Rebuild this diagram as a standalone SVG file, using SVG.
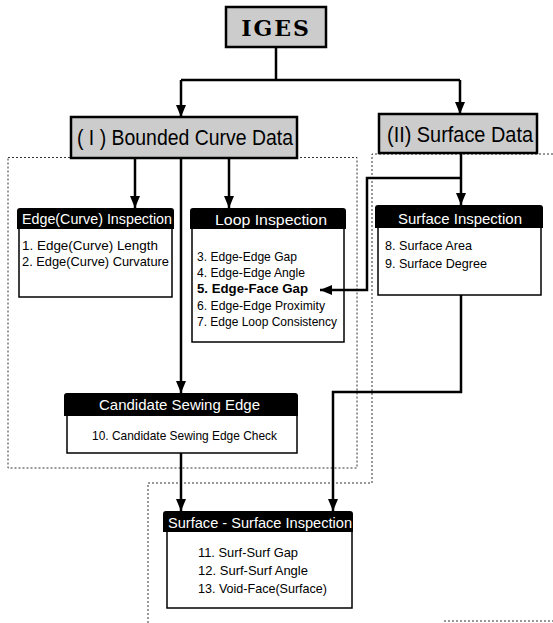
<svg xmlns="http://www.w3.org/2000/svg" width="553" height="623" viewBox="0 0 553 623">
<style>
.region{fill:none;stroke:#333;stroke-width:1;stroke-dasharray:2,2}
.top{fill:#cccccc;stroke:#000;stroke-width:2.5}
.hdr{fill:#000}
.body{fill:#fff;stroke:#000;stroke-width:1.5}
.conn{fill:none;stroke:#000;stroke-width:2.5}
.ttl{font-family:"Liberation Sans",Arial,sans-serif;font-size:22px;fill:#000}
.iges{font-family:"DejaVu Serif",serif;font-weight:bold;font-size:22px;fill:#000}
.ht{font-family:"Liberation Sans",Arial,sans-serif;font-size:15px;fill:#fff}
.bt{font-family:"Liberation Sans",Arial,sans-serif;font-size:13px;fill:#000}
</style>
<defs>
<marker id="ah" markerUnits="userSpaceOnUse" markerWidth="12" markerHeight="12" viewBox="0 0 12 12" refX="12" refY="6" orient="auto"><path d="M0,1 L12,6 L0,11 z" fill="#000"/></marker>
</defs>
<g id="regions">
<rect class="region" x="8" y="157.5" width="349" height="310.5"/>
<polyline class="region" points="553,154 372,154 372,483 148,483 148,623"/>
<line class="region" x1="444" y1="621" x2="553" y2="621"/>
</g>
<g id="iges">
<rect class="top" x="226" y="7" width="100" height="40"/>
<text class="iges" x="276" y="36" text-anchor="middle" letter-spacing="2">IGES</text>
</g>
<g id="bounded-curve-data">
<rect class="top" x="71" y="117" width="226" height="41"/>
<text class="ttl" x="77" y="145" textLength="216" lengthAdjust="spacingAndGlyphs">( I ) Bounded Curve Data</text>
</g>
<g id="surface-data">
<rect class="top" x="379" y="114" width="158" height="39"/>
<text class="ttl" x="387" y="142" textLength="146" lengthAdjust="spacingAndGlyphs">(II) Surface Data</text>
</g>
<g id="edge-inspection">
<rect class="body" x="19" y="228" width="153" height="69"/>
<path class="hdr" d="M17,229 V211 Q17,208 20,208 H171 Q174,208 174,211 V229 Z"/>
<text class="ht" x="22" y="224" textLength="150" lengthAdjust="spacingAndGlyphs">Edge(Curve) Inspection</text>
<text class="bt" x="22" y="250" textLength="136" lengthAdjust="spacingAndGlyphs">1. Edge(Curve) Length</text>
<text class="bt" x="22" y="266" textLength="147" lengthAdjust="spacingAndGlyphs">2. Edge(Curve) Curvature</text>
</g>
<g id="loop-inspection">
<rect class="body" x="192" y="228" width="152" height="114"/>
<path class="hdr" d="M190,229 V211 Q190,208 193,208 H343 Q346,208 346,211 V229 Z"/>
<text class="ht" x="215" y="225" textLength="112" lengthAdjust="spacingAndGlyphs">Loop  Inspection</text>
<text class="bt" x="197" y="261" textLength="100" lengthAdjust="spacingAndGlyphs">3. Edge-Edge Gap</text>
<text class="bt" x="197" y="277" textLength="108" lengthAdjust="spacingAndGlyphs">4. Edge-Edge Angle</text>
<text class="bt" x="197" y="293" font-weight="bold" textLength="111" lengthAdjust="spacingAndGlyphs">5. Edge-Face Gap</text>
<text class="bt" x="197" y="310" textLength="128" lengthAdjust="spacingAndGlyphs">6. Edge-Edge Proximity</text>
<text class="bt" x="197" y="326" textLength="140" lengthAdjust="spacingAndGlyphs">7. Edge Loop Consistency</text>
</g>
<g id="surface-inspection">
<rect class="body" x="378" y="227" width="163" height="68"/>
<path class="hdr" d="M375,228 V208 Q375,205 378,205 H540 Q543,205 543,208 V228 Z"/>
<text class="ht" x="398" y="224" textLength="124" lengthAdjust="spacingAndGlyphs">Surface  Inspection</text>
<text class="bt" x="385" y="250" textLength="87" lengthAdjust="spacingAndGlyphs">8.  Surface Area</text>
<text class="bt" x="385" y="268" textLength="102" lengthAdjust="spacingAndGlyphs">9.  Surface Degree</text>
</g>
<g id="candidate-sewing-edge">
<rect class="body" x="67" y="415" width="230" height="38"/>
<path class="hdr" d="M64,416 V396 Q64,393 67,393 H295 Q298,393 298,396 V416 Z"/>
<text class="ht" x="99" y="410" textLength="161" lengthAdjust="spacingAndGlyphs">Candidate Sewing Edge</text>
<text class="bt" x="92" y="440" textLength="185" lengthAdjust="spacingAndGlyphs">10. Candidate Sewing Edge Check</text>
</g>
<g id="surface-surface-inspection">
<rect class="body" x="167" y="531" width="185" height="77"/>
<path class="hdr" d="M163,532 V514 Q163,511 166,511 H350 Q353,511 353,514 V532 Z"/>
<text class="ht" x="168" y="528" textLength="184" lengthAdjust="spacingAndGlyphs">Surface - Surface Inspection</text>
<text class="bt" x="198" y="557" textLength="100" lengthAdjust="spacingAndGlyphs">11.  Surf-Surf Gap</text>
<text class="bt" x="198" y="575" textLength="110" lengthAdjust="spacingAndGlyphs">12.  Surf-Surf Angle</text>
<text class="bt" x="198" y="593" textLength="129" lengthAdjust="spacingAndGlyphs">13.  Void-Face(Surface)</text>
</g>
<g id="connectors">
<polyline class="conn" points="276,47 276,80"/>
<polyline class="conn" points="181,80 460,80"/>
<line class="conn" x1="181" y1="80" x2="181" y2="117" marker-end="url(#ah)"/>
<line class="conn" x1="460" y1="80" x2="460" y2="114" marker-end="url(#ah)"/>
<line class="conn" x1="135" y1="158" x2="135" y2="208" marker-end="url(#ah)"/>
<line class="conn" x1="229" y1="158" x2="229" y2="208" marker-end="url(#ah)"/>
<line class="conn" x1="181" y1="158" x2="181" y2="393" marker-end="url(#ah)"/>
<line class="conn" x1="461" y1="153" x2="461" y2="205" marker-end="url(#ah)"/>
<polyline class="conn" points="461,178 367,178 367,290 320,290" marker-end="url(#ah)"/>
<line class="conn" x1="181" y1="453" x2="181" y2="511" marker-end="url(#ah)"/>
<polyline class="conn" points="461,295 461,392 333,392 333,511" marker-end="url(#ah)"/>
</g>
</svg>
